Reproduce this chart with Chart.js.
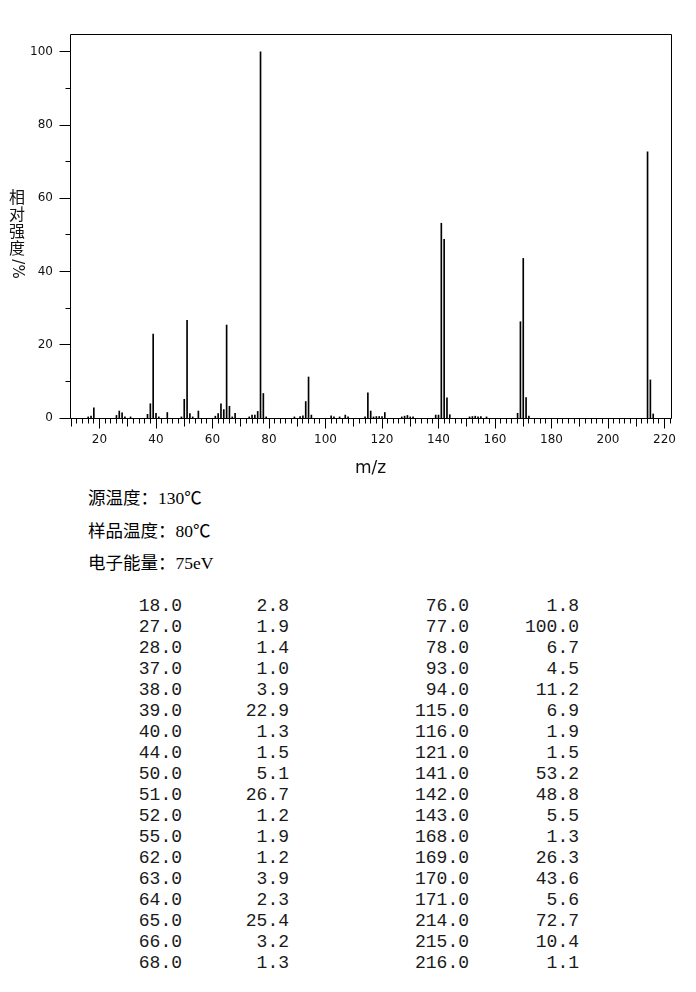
<!DOCTYPE html>
<html>
<head>
<meta charset="utf-8">
<script src="https://cdn.jsdelivr.net/npm/chart.js@4.4.1/dist/chart.umd.min.js"></script>
<style>
  body { margin: 0; background: #fff; width: 696px; height: 992px; position: relative; overflow: hidden; }
  #spectrum { position: absolute; left: 0; top: 0; }
  .info { position: absolute; left: 88px; height: 32px; line-height: 32px; white-space: pre;
          font: 17.5px "Liberation Serif", "Noto Sans CJK SC", serif; color: #000; }
  #peaks { position: absolute; left: 0; top: 596px; width: 696px;
           font: 18px "Liberation Mono", monospace; color: #1a1a1a; }
  .row { position: relative; height: 21px; line-height: 21px; }
  .row span { position: absolute; top: 0; text-align: right; white-space: pre; }
</style>
</head>
<body>
<canvas id="spectrum" width="696" height="480"></canvas>
<div id="infoBox"></div>
<div id="peaks"></div>
<script>
// 质谱峰 (m/z, 相对强度 %)
const mzValues = [16, 17, 18, 26, 27, 28, 29, 31, 37, 38, 39, 40, 41, 44, 49, 50, 51, 52, 53, 55,
  61, 62, 63, 64, 65, 66, 67, 68, 73, 74, 75, 76, 77, 78, 79, 89, 91, 92, 93, 94, 95,
  102, 103, 105, 107, 108, 114, 115, 116, 117, 118, 119, 120, 121, 127, 128, 129, 130, 131,
  139, 140, 141, 142, 143, 144, 151, 152, 153, 154, 155, 157, 168, 169, 170, 171, 172,
  214, 215, 216];
const intensities = [0.3, 0.5, 2.8, 0.7, 1.9, 1.4, 0.3, 0.3, 1.0, 3.9, 22.9, 1.3, 0.3, 1.5, 0.3, 5.1, 26.7, 1.2, 0.3, 1.9,
  0.5, 1.2, 3.9, 2.3, 25.4, 3.2, 0.3, 1.3, 0.3, 0.8, 0.8, 1.8, 100.0, 6.7, 0.3, 0.3, 0.4, 0.6, 4.5, 11.2, 0.8,
  0.6, 0.3, 0.3, 0.8, 0.3, 0.3, 6.9, 1.9, 0.3, 0.4, 0.4, 0.4, 1.5, 0.3, 0.5, 0.7, 0.3, 0.3,
  0.8, 0.8, 53.2, 48.8, 5.5, 0.9, 0.3, 0.4, 0.5, 0.3, 0.4, 0.3, 1.3, 26.3, 43.6, 5.6, 0.5,
  72.7, 10.4, 1.1];

const xTickLabels = [20, 40, 60, 80, 100, 120, 140, 160, 180, 200, 220];
const yTickLabels = [0, 20, 40, 60, 80, 100];
const xTitle = 'm/z';
const yTitleChars = ['相', '对', '强', '度'];
const yTitleUnit = '/%';
const infoLines = ['源温度：130℃', '样品温度：80℃', '电子能量：75eV'];
const tableMin = 1.0;

// 边框、刻度和纵轴标题
const frameTicks = {
  id: 'frameTicks',
  afterDatasetsDraw(chart) {
    const { ctx, chartArea: a, scales: { x, y } } = chart;
    const px = v => Math.floor(v + 0.01) + 0.5;
    const L = px(a.left), R = px(a.right), T = px(a.top), B = px(a.bottom);
    ctx.save();
    ctx.strokeStyle = '#000';
    ctx.lineWidth = 1;
    ctx.beginPath();
    ctx.rect(L, T, R - L, B - T);
    for (let v = 0; v <= 100; v += 10) {
      const yy = px(y.getPixelForValue(v));
      const len = v % 20 === 0 ? 11 : 5;
      ctx.moveTo(L - len, yy);
      ctx.lineTo(L, yy);
    }
    for (let v = 10; v <= 222; v += 2) {
      const xx = px(x.getPixelForValue(v));
      const len = v % 20 === 0 ? 10 : (v % 10 === 0 ? 8 : 5);
      ctx.moveTo(xx, B);
      ctx.lineTo(xx, B + len);
    }
    ctx.stroke();

    // 纵轴标题: 竖排汉字 + 旋转的单位
    ctx.fillStyle = '#111';
    ctx.font = '16px "Noto Sans CJK SC"';
    ctx.textAlign = 'center';
    ctx.textBaseline = 'middle';
    yTitleChars.forEach((ch, i) => ctx.fillText(ch, 17, 197 + i * 17));
    ctx.translate(17, 269);
    ctx.rotate(Math.PI / 2);
    ctx.font = '15px "DejaVu Sans"';
    ctx.fillText(yTitleUnit, 0, 0);
    ctx.restore();
  }
};

new Chart(document.getElementById('spectrum'), {
  type: 'bar',
  data: {
    datasets: [{
      data: mzValues.map((m, i) => ({ x: m, y: intensities[i] })),
      backgroundColor: '#000',
      borderWidth: 0,
      barThickness: 1
    }]
  },
  options: {
    responsive: false,
    animation: false,
    layout: { padding: { left: 0, top: 34, right: 25, bottom: 0 } },
    plugins: { legend: { display: false }, tooltip: { enabled: false } },
    scales: {
      x: {
        type: 'linear',
        min: 9.56,
        max: 222.3,
        offset: false,
        grid: { display: false, drawTicks: false },
        border: { display: false },
        afterBuildTicks: s => { s.ticks = xTickLabels.map(v => ({ value: v })); },
        afterFit: s => { s.height = 62; },
        ticks: { padding: 15, maxRotation: 0, autoSkip: false, color: '#111',
                 font: { family: 'DejaVu Sans', size: 12 } },
        title: { display: true, text: xTitle, color: '#111',
                 font: { family: 'DejaVu Sans', size: 17 }, padding: { top: 0, bottom: 1 } }
      },
      y: {
        min: 0,
        max: 104.9,
        grid: { display: false, drawTicks: false },
        border: { display: false },
        afterBuildTicks: s => { s.ticks = yTickLabels.map(v => ({ value: v })); },
        afterFit: s => { s.width = 70; },
        ticks: { padding: 17, color: '#111', font: { family: 'DejaVu Sans', size: 12 } }
      }
    }
  },
  plugins: [frameTicks]
});

// 条件说明
const infoBox = document.getElementById('infoBox');
infoLines.forEach((t, i) => {
  const d = document.createElement('div');
  d.className = 'info';
  d.style.top = (484 + i * 32.5) + 'px';
  d.textContent = t;
  infoBox.appendChild(d);
});

// 峰表 (强度 >= 1.0)
const listed = mzValues.map((m, i) => [m, intensities[i]]).filter(p => p[1] >= tableMin);
const half = Math.ceil(listed.length / 2);
const cols = [[100, 82], [182, 107], [289, 180], [469, 110]];
const peaks = document.getElementById('peaks');
for (let r = 0; r < half; r++) {
  const row = document.createElement('div');
  row.className = 'row';
  const cells = [listed[r], listed[r + half]].filter(Boolean)
    .flatMap(p => [p[0].toFixed(1), p[1].toFixed(1)]);
  cells.forEach((txt, c) => {
    const s = document.createElement('span');
    s.style.left = cols[c][0] + 'px';
    s.style.width = cols[c][1] + 'px';
    s.textContent = txt;
    row.appendChild(s);
  });
  peaks.appendChild(row);
}
</script>
</body>
</html>
